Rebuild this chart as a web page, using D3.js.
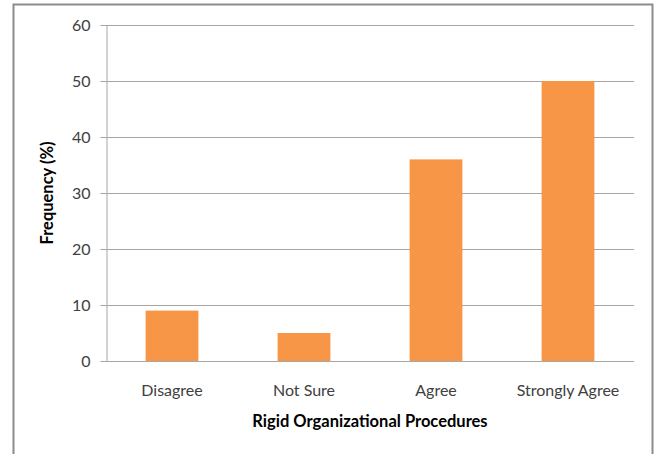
<!DOCTYPE html>
<html>
<head>
<meta charset="utf-8">
<script src="https://cdn.jsdelivr.net/npm/d3@7"></script>
<style>
  body { margin: 0; background: #fff; }
  svg text { font-family: Lato, "Open Sans", sans-serif; fill: #404040; }
  .grid line { stroke: #a6a6a6; stroke-width: 1; }
  .axis path, .axis line { stroke: #a6a6a6; }
  .title { font-weight: bold; fill: #000; }
</style>
</head>
<body>
<div id="chart"></div>
<script>
var categories = ['Disagree', 'Not Sure', 'Agree', 'Strongly Agree'];
var values = [9, 5, 36, 50];
var yTicks = [0, 10, 20, 30, 40, 50, 60];

var width = 658;
var height = 454;
var margin = { top: 25, right: 24, bottom: 93, left: 106 };
var plotW = width - margin.left - margin.right;
var plotH = height - margin.top - margin.bottom;

var svg = d3.select('#chart')
    .append('svg')
    .attr('width', width)
    .attr('height', height);

// outer frame
svg.append('rect')
    .attr('x', 13.5)
    .attr('y', 4.5)
    .attr('width', 639)
    .attr('height', 460)
    .attr('fill', 'none')
    .attr('stroke', '#8c8c8c')
    .attr('stroke-width', 2);

var g = svg.append('g')
    .attr('transform', 'translate(' + margin.left + ',' + margin.top + ')');

var x = d3.scaleBand()
    .domain(categories)
    .range([0, plotW])
    .paddingInner(0.6)
    .paddingOuter(0.3);

var y = d3.scaleLinear()
    .domain([0, 60])
    .range([plotH, 0]);

// gridlines
g.append('g')
    .attr('class', 'grid')
    .selectAll('line')
    .data(yTicks.filter(function(d) { return d > 0; }))
    .join('line')
    .attr('x1', 0)
    .attr('x2', plotW)
    .attr('y1', function(d) { return Math.round(y(d)) + 0.5; })
    .attr('y2', function(d) { return Math.round(y(d)) + 0.5; });

// bars
g.selectAll('.bar')
    .data(values)
    .join('rect')
    .attr('class', 'bar')
    .attr('x', function(d, i) { return x(categories[i]); })
    .attr('y', function(d) { return y(d); })
    .attr('width', x.bandwidth())
    .attr('height', function(d) { return plotH - y(d); })
    .attr('fill', '#f79646');

// y axis
var yAxis = g.append('g')
    .attr('class', 'axis')
    .attr('transform', 'translate(0.5,0)')
    .call(d3.axisLeft(y).tickValues(yTicks).tickSize(6).tickSizeOuter(0).tickPadding(10));

yAxis.selectAll('text')
    .style('font-size', '16px');

// x axis
var xAxis = g.append('g')
    .attr('class', 'axis')
    .attr('transform', 'translate(0,' + (plotH + 0.5) + ')')
    .call(d3.axisBottom(x).tickSize(0).tickPadding(23));

xAxis.selectAll('text')
    .style('font-size', '16px');

xAxis.select('.domain').attr('d', 'M0,0H' + plotW);

// axis titles
svg.append('text')
    .attr('class', 'title')
    .attr('x', margin.left + plotW / 2)
    .attr('y', 427)
    .attr('text-anchor', 'middle')
    .style('font-size', '16.5px')
    .text('Rigid Organizational Procedures');

svg.append('text')
    .attr('class', 'title')
    .attr('transform', 'translate(53,' + (margin.top + plotH / 2) + ') rotate(-90)')
    .attr('text-anchor', 'middle')
    .style('font-size', '16.5px')
    .text('Frequency (%)');
</script>
</body>
</html>
